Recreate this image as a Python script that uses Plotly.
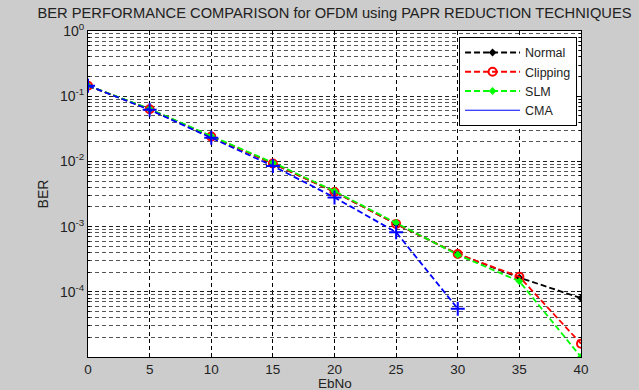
import plotly.graph_objects as go

ebno = [0, 5, 10, 15, 20, 25, 30, 35, 40]
ber_normal = [0.145, 0.063, 0.024, 0.0093, 0.0034, 0.0011, 3.8e-4, 1.65e-4, 8.0e-5]
ber_clipping = [0.145, 0.063, 0.024, 0.0093, 0.0034, 0.0011, 3.8e-4, 1.7e-4, 1.6e-5]
ber_slm = [0.145, 0.064, 0.0245, 0.0096, 0.0035, 0.00115, 3.7e-4, 1.45e-4, 1.0e-5]
ebno_cma = [0, 5, 10, 15, 20, 25, 30]
ber_cma = [0.145, 0.062, 0.023, 0.0085, 0.0028, 0.00082, 5.5e-5]

ytick_vals = [1, 0.1, 0.01, 0.001, 0.0001]
ytick_text = ["10<sup>0</sup>", "10<sup>-1</sup>", "10<sup>-2</sup>", "10<sup>-3</sup>", "10<sup>-4</sup>"]
xtick_vals = [0, 5, 10, 15, 20, 25, 30, 35, 40]

FONT = "Liberation Sans, Arial, sans-serif"
TXT = "#222222"
LDASH = "6px,3px"
GDASH = "4px,3px"

fig = go.Figure()
fig.add_trace(go.Scatter(x=ebno, y=ber_normal, name="Normal", mode="lines+markers",
                         line=dict(color="black", dash=LDASH, width=1.8),
                         marker=dict(symbol="diamond", size=6, color="black")))
fig.add_trace(go.Scatter(x=ebno, y=ber_clipping, name="Clipping", mode="lines+markers",
                         line=dict(color="red", dash=LDASH, width=1.8),
                         marker=dict(symbol="circle-open", size=8, color="red", line=dict(width=2))))
fig.add_trace(go.Scatter(x=ebno, y=ber_slm, name="SLM", mode="lines+markers",
                         line=dict(color="#00ff00", dash=LDASH, width=1.8),
                         marker=dict(symbol="diamond", size=6, color="#00ff00")))
fig.add_trace(go.Scatter(x=ebno_cma, y=ber_cma, name="CMA", mode="lines+markers", showlegend=False,
                         line=dict(color="blue", dash=LDASH, width=1.8),
                         marker=dict(symbol="cross-thin-open", size=10, color="blue", line=dict(width=2, color="blue"))))
# legend entry for CMA as drawn in the original (solid thin line)
fig.add_trace(go.Scatter(x=[None], y=[None], name="CMA", mode="lines",
                         line=dict(color="blue", width=1)))

fig.update_layout(
    width=639, height=390,
    margin=dict(l=88, r=58, t=31, b=33),
    paper_bgcolor="#cccccc", plot_bgcolor="white",
    font=dict(family=FONT, size=14, color=TXT),
    title=dict(text="BER PERFORMANCE COMPARISON for OFDM using PAPR REDUCTION TECHNIQUES",
               x=0.5, xref="paper", xanchor="center", y=0.966, yanchor="middle",
               font=dict(size=14.7, color=TXT)),
    showlegend=True,
    legend=dict(x=0.992, y=0.982, xanchor="right", yanchor="top", bgcolor="white",
                bordercolor="black", borderwidth=1, font=dict(size=12.5, color=TXT),
                itemwidth=55, tracegroupgap=0),
    annotations=[dict(text="EbNo", x=0.5, xref="paper", y=-0.082, yref="paper",
                      xanchor="center", yanchor="middle", showarrow=False,
                      font=dict(size=13.5, color=TXT))],
)
fig.update_xaxes(range=[0, 40], tickvals=xtick_vals, showline=True, linecolor="black", linewidth=1,
                 mirror="ticks", ticks="inside", ticklen=4, tickcolor="black",
                 showgrid=True, gridcolor="black", griddash=GDASH, gridwidth=1, zeroline=False,
                 automargin=False, tickfont=dict(size=13.5, color=TXT))
fig.update_yaxes(type="log", range=[-5, 0], tickmode="array", tickvals=ytick_vals, ticktext=ytick_text,
                 showline=True, linecolor="black", linewidth=1, mirror="ticks",
                 ticks="inside", ticklen=4, tickcolor="black",
                 showgrid=True, gridcolor="#222222", griddash=GDASH, gridwidth=1, zeroline=False,
                 automargin=False, tickfont=dict(size=14, color=TXT),
                 minor=dict(dtick="D1", showgrid=True, gridcolor="#555555", griddash=GDASH,
                            ticks="inside", ticklen=2, tickcolor="black"),
                 title=dict(text="BER", standoff=8, font=dict(size=14, color=TXT)))

fig.write_html("out.html")
